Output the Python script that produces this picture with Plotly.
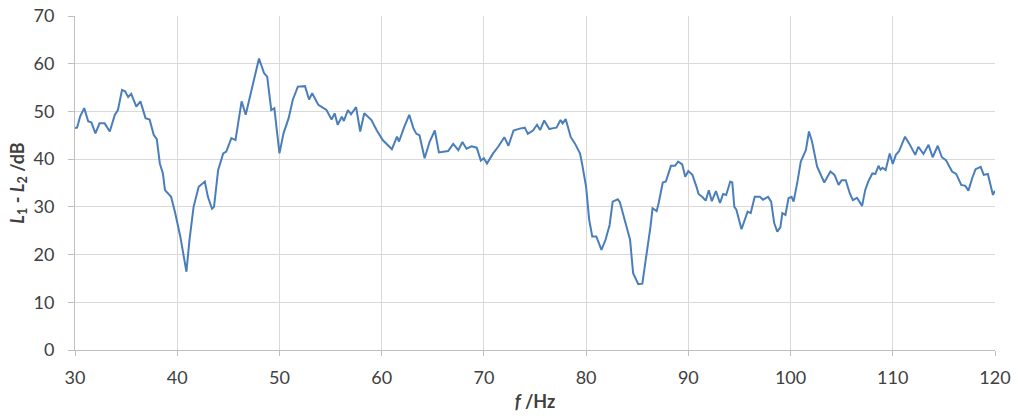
import plotly.graph_objects as go

freq_hz = [30.0, 30.2, 30.5, 30.9, 31.3, 31.6, 32.0, 32.4, 32.9, 33.4, 33.9, 34.2, 34.6, 34.9, 35.2, 35.5,
           36.0, 36.4, 36.9, 37.3, 37.7, 38.0, 38.3, 38.6, 38.8, 39.4, 39.8, 40.3, 40.9, 41.2, 41.6, 42.1,
           42.7, 43.0, 43.4, 43.6, 44.0, 44.5, 44.8, 45.3, 45.7, 46.3, 46.7, 47.1, 47.6, 48.0, 48.5, 48.8,
           49.2, 49.5, 50.0, 50.4, 50.9, 51.3, 51.8, 52.5, 52.9, 53.2, 53.8, 54.6, 55.1, 55.4, 55.7, 56.1,
           56.3, 56.7, 57.0, 57.5, 57.9, 58.3, 59.0, 59.5, 60.1, 61.0, 61.5, 61.7, 62.2, 62.7, 63.1, 63.4,
           63.7, 64.2, 64.7, 65.2, 65.6, 66.2, 66.5, 67.0, 67.5, 67.9, 68.3, 68.8, 69.3, 69.7, 70.0, 70.3,
           70.9, 71.4, 72.0, 72.4, 72.9, 73.5, 74.0, 74.3, 74.8, 75.2, 75.5, 75.9, 76.4, 76.8, 77.1, 77.5,
           77.7, 78.0, 78.5, 78.9, 79.4, 79.6, 80.0, 80.3, 80.6, 81.0, 81.5, 81.9, 82.3, 82.6, 83.1, 83.3,
           83.8, 84.3, 84.6, 85.1, 85.5, 85.9, 86.3, 86.5, 86.9, 87.1, 87.5, 87.8, 88.3, 88.7, 89.0, 89.4,
           89.7, 90.0, 90.4, 90.8, 91.0, 91.4, 91.7, 92.0, 92.3, 92.7, 93.1, 93.4, 93.7, 94.1, 94.3, 94.5,
           94.7, 95.2, 95.5, 95.8, 96.1, 96.5, 97.0, 97.3, 97.8, 98.1, 98.4, 98.7, 99.0, 99.2, 99.5, 99.8,
           100.1, 100.3, 100.7, 101.0, 101.5, 101.8, 102.1, 102.6, 102.9, 103.3, 103.9, 104.3, 104.7, 105.0,
           105.4, 105.8, 106.1, 106.5, 107.0, 107.3, 107.6, 108.0, 108.3, 108.6, 108.8, 109.0, 109.3, 109.7,
           110.0, 110.3, 110.6, 111.2, 111.6, 112.2, 112.5, 113.0, 113.5, 113.9, 114.4, 114.8, 115.2, 115.8,
           116.2, 116.7, 117.1, 117.4, 117.8, 118.1, 118.6, 118.9, 119.3, 119.6, 119.8, 120.0]

level_diff_db = [46.5, 46.6, 48.9, 50.7, 47.9, 47.7, 45.4, 47.5, 47.5, 45.8, 49.3, 50.3, 54.5, 54.2, 53.0, 53.7,
                 51.0, 52.1, 48.6, 48.3, 45.1, 44.2, 39.1, 37.0, 33.5, 32.1, 28.7, 23.8, 16.4, 23.1, 30.0, 34.2,
                 35.3, 32.1, 29.6, 30.0, 37.7, 41.2, 41.6, 44.4, 44.0, 52.1, 49.3, 53.1, 57.3, 61.1, 58.0, 57.3,
                 50.3, 50.7, 41.2, 45.4, 48.6, 52.4, 55.2, 55.3, 52.5, 53.8, 51.4, 50.3, 48.3, 49.6, 47.2, 48.9,
                 48.0, 50.3, 49.4, 50.9, 45.8, 49.6, 48.2, 46.1, 44.0, 42.1, 44.7, 43.7, 46.7, 49.3, 46.5, 45.3,
                 45.0, 40.2, 43.7, 46.0, 41.4, 41.6, 41.7, 43.2, 41.9, 43.6, 42.2, 42.7, 42.4, 39.7, 40.2, 39.1,
                 41.2, 42.6, 44.6, 42.8, 46.0, 46.4, 46.6, 45.3, 46.0, 47.2, 46.1, 48.1, 46.3, 46.5, 46.6, 48.2,
                 47.5, 48.4, 44.6, 43.3, 41.2, 39.1, 34.2, 27.3, 23.8, 23.8, 21.0, 23.1, 26.2, 31.1, 31.6, 31.0,
                 26.9, 23.1, 16.1, 13.8, 13.9, 19.6, 25.9, 29.7, 29.1, 30.8, 35.1, 35.3, 38.6, 38.6, 39.5, 38.9,
                 36.3, 37.5, 36.7, 34.2, 32.7, 32.0, 31.3, 33.5, 31.2, 33.3, 30.8, 32.7, 32.5, 35.3, 35.1, 30.0,
                 29.4, 25.3, 27.3, 29.0, 28.7, 32.1, 32.1, 31.5, 32.1, 31.1, 26.6, 24.8, 25.7, 28.7, 28.3, 31.8,
                 32.1, 31.1, 35.6, 39.5, 41.9, 45.8, 43.7, 38.4, 37.0, 35.1, 37.4, 36.7, 34.6, 35.6,
                 35.6, 32.8, 31.4, 31.9, 30.2, 33.5, 35.3, 37.0, 36.9, 38.6, 37.8, 38.2, 37.7, 41.2,
                 39.0, 40.9, 41.6, 44.7, 43.3, 40.9, 42.6, 41.1, 43.0, 40.4, 42.8, 40.4, 39.8, 37.4,
                 36.9, 34.6, 34.4, 33.4, 36.2, 37.9, 38.4, 36.7, 36.9, 34.2, 32.5, 33.4]

x_ticks = [30, 40, 50, 60, 70, 80, 90, 100, 110, 120]
y_ticks = [0, 10, 20, 30, 40, 50, 60, 70]

FONT = "Lato, 'Open Sans', sans-serif"
GRID = "#d9d9d9"
AXIS = "#bfbfbf"
TXT = "#404040"

fig = go.Figure()
fig.add_trace(go.Scatter(
    x=freq_hz, y=level_diff_db, mode="lines",
    line=dict(color="#4a7ebb", width=2),
    showlegend=False,
))

fig.update_layout(
    width=1016, height=418,
    margin=dict(l=75, r=21, t=16, b=68),
    paper_bgcolor="white", plot_bgcolor="white",
    font=dict(family=FONT, size=18, color=TXT),
)
fig.update_xaxes(
    range=[30, 120], tickmode="array", tickvals=x_ticks,
    showgrid=True, gridcolor=GRID, gridwidth=1,
    showline=True, linecolor=AXIS, linewidth=1,
    ticks="outside", ticklen=5, tickcolor=AXIS,
    ticklabelstandoff=6, automargin=False,
    zeroline=False,
    title=dict(text="<b><i>f</i> /Hz</b>", font=dict(family=FONT, size=18, color=TXT), standoff=8),
)
fig.update_yaxes(
    range=[0, 70], tickmode="array", tickvals=y_ticks,
    showgrid=True, gridcolor=GRID, gridwidth=1,
    showline=True, linecolor=AXIS, linewidth=1,
    ticks="outside", ticklen=6, tickcolor=AXIS,
    ticklabelstandoff=10, automargin=False,
    zeroline=False,
    title=dict(text="<b><i>L</i><sub>1</sub> - <i>L</i><sub>2</sub> /dB</b>",
               font=dict(family=FONT, size=18, color=TXT), standoff=4),
)

fig.write_html("out.html", config={"displayModeBar": False},
               post_script="document.body.style.margin='0';")
